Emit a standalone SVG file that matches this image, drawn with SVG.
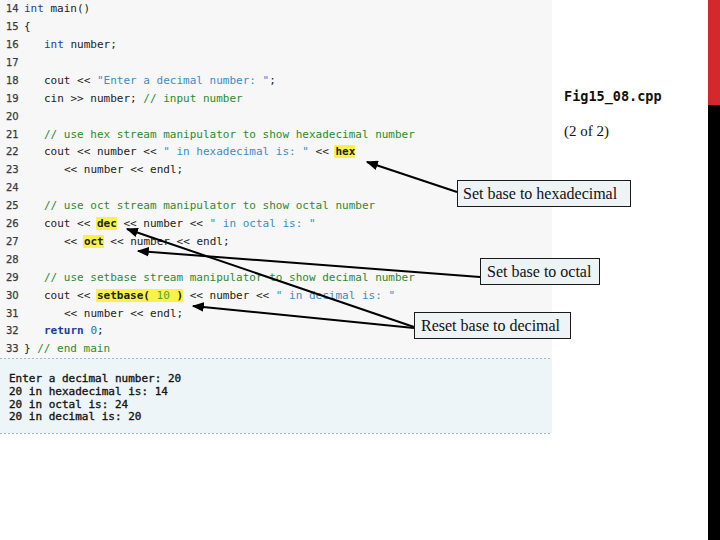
<svg xmlns="http://www.w3.org/2000/svg" width="720" height="540" viewBox="0 0 720 540">
<style>
.ln{font-family:"DejaVu Sans","Liberation Sans",sans-serif;font-size:10px;fill:#3a3a3a;stroke:#3a3a3a;stroke-width:0.25}
.code{font-family:"DejaVu Sans Mono","Liberation Mono",monospace;font-size:11px;fill:#222}
.kw{fill:#1f3c9c}
.str{fill:#3a8cc8}
.cm{fill:#2e8a2e}
.num{fill:#2a6ab8}
.num2{fill:#5e9a36}
.b{font-weight:bold}
.hl{fill:#f8f24a}
.out{font-family:"DejaVu Sans Mono","Liberation Mono",monospace;font-size:11px;fill:#151515;stroke:#151515;stroke-width:0.35}
.box{fill:#eef3f6;stroke:#1a1a1a;stroke-width:1}
.lbl{font-family:"Liberation Serif","Times New Roman",serif;font-size:16px;fill:#111}
.conn{stroke:#000;stroke-width:2;fill:none;marker-end:url(#ah)}
</style>
<defs>
<marker id="ah" viewBox="0 0 10 8" refX="9" refY="4" markerWidth="6" markerHeight="4.8" orient="auto" markerUnits="strokeWidth">
<path d="M0,0 L10,4 L0,8 Z" fill="#000"/>
</marker>
</defs>
<rect x="0" y="0" width="720" height="540" fill="#fff"/>
<rect x="0" y="0" width="552" height="358" fill="#f7f7f7"/>
<rect x="0" y="358" width="552" height="75" fill="#eef5f8"/>
<line x1="0" y1="358.5" x2="552" y2="358.5" stroke="#a8b8cc" stroke-width="1" stroke-dasharray="2,2"/>
<line x1="0" y1="433.5" x2="552" y2="433.5" stroke="#a8b8cc" stroke-width="1" stroke-dasharray="2,2"/>
<rect x="708" y="0" width="12" height="105" fill="#d2282e"/>
<rect x="708" y="105" width="12" height="435" fill="#000"/>

<g id="code">
<rect class="hl" x="334" y="145" width="21" height="13"/>
<rect class="hl" x="96" y="217" width="21" height="13"/>
<rect class="hl" x="83" y="235" width="21" height="13"/>
<rect class="hl" x="96" y="289" width="87" height="13"/>
<g class="ln">
<text x="6" y="12">14</text><text x="6" y="30">15</text><text x="6" y="48">16</text><text x="6" y="66">17</text>
<text x="6" y="84">18</text><text x="6" y="102">19</text><text x="6" y="120">20</text><text x="6" y="138">21</text>
<text x="6" y="155">22</text><text x="6" y="173">23</text><text x="6" y="191">24</text><text x="6" y="209">25</text>
<text x="6" y="227">26</text><text x="6" y="245">27</text><text x="6" y="263">28</text><text x="6" y="281">29</text>
<text x="6" y="299">30</text><text x="6" y="317">31</text><text x="6" y="334">32</text><text x="6" y="352">33</text>
</g>
<g class="code" xml:space="preserve">
<text x="24" y="12"><tspan class="kw">int</tspan> main()</text>
<text x="24" y="30">{</text>
<text x="44" y="48"><tspan class="kw">int</tspan> number;</text>
<text x="44" y="84">cout &lt;&lt; <tspan class="str">"Enter a decimal number: "</tspan>;</text>
<text x="44" y="102">cin &gt;&gt; number; <tspan class="cm">// input number</tspan></text>
<text x="44" y="138"><tspan class="cm">// use hex stream manipulator to show hexadecimal number</tspan></text>
<text x="44" y="155">cout &lt;&lt; number &lt;&lt; <tspan class="str">" in hexadecimal is: "</tspan> &lt;&lt; <tspan class="b">hex</tspan></text>
<text x="64" y="173">&lt;&lt; number &lt;&lt; endl;</text>
<text x="44" y="209"><tspan class="cm">// use oct stream manipulator to show octal number</tspan></text>
<text x="44" y="227">cout &lt;&lt; <tspan class="b">dec</tspan> &lt;&lt; number &lt;&lt; <tspan class="str">" in octal is: "</tspan></text>
<text x="64" y="245">&lt;&lt; <tspan class="b">oct</tspan> &lt;&lt; number &lt;&lt; endl;</text>
<text x="44" y="281"><tspan class="cm">// use setbase stream manipulator to show decimal number</tspan></text>
<text x="44" y="299">cout &lt;&lt; <tspan class="b">setbase( </tspan><tspan class="num2">10</tspan><tspan class="b"> )</tspan> &lt;&lt; number &lt;&lt; <tspan class="str">" in decimal is: "</tspan></text>
<text x="64" y="317">&lt;&lt; number &lt;&lt; endl;</text>
<text x="44" y="334"><tspan class="kw b">return</tspan> <tspan class="num">0</tspan>;</text>
<text x="24" y="352">} <tspan class="cm">// end main</tspan></text>
</g>
</g>

<g id="output" class="out" xml:space="preserve">
<text x="9" y="382">Enter a decimal number: 20</text>
<text x="9" y="395">20 in hexadecimal is: 14</text>
<text x="9" y="408">20 in octal is: 24</text>
<text x="9" y="420">20 in decimal is: 20</text>
</g>

<g id="title">
<text x="564" y="101" font-family="DejaVu Sans Mono, Liberation Mono, monospace" font-size="13.5" font-weight="bold" fill="#111">Fig15_08.cpp</text>
<text x="564" y="136" font-family="Liberation Serif, Times New Roman, serif" font-size="15" fill="#111">(2 of 2)</text>
</g>

<g id="connectors">
<line class="conn" x1="457" y1="192" x2="367" y2="162"/>
<line class="conn" x1="480" y1="277" x2="138" y2="251"/>
<line class="conn" x1="414" y1="327" x2="127" y2="229"/>
<line class="conn" x1="414" y1="328" x2="193" y2="306"/>
</g>

<g id="node-hex">
<rect class="box" x="457.5" y="180.5" width="173" height="26"/>
<text class="lbl" x="463" y="199">Set base to hexadecimal</text>
</g>
<g id="node-oct">
<rect class="box" x="480.5" y="258.5" width="119" height="26"/>
<text class="lbl" x="487" y="277">Set base to octal</text>
</g>
<g id="node-dec">
<rect class="box" x="414.5" y="312.5" width="156" height="26"/>
<text class="lbl" x="421" y="331">Reset base to decimal</text>
</g>
</svg>
